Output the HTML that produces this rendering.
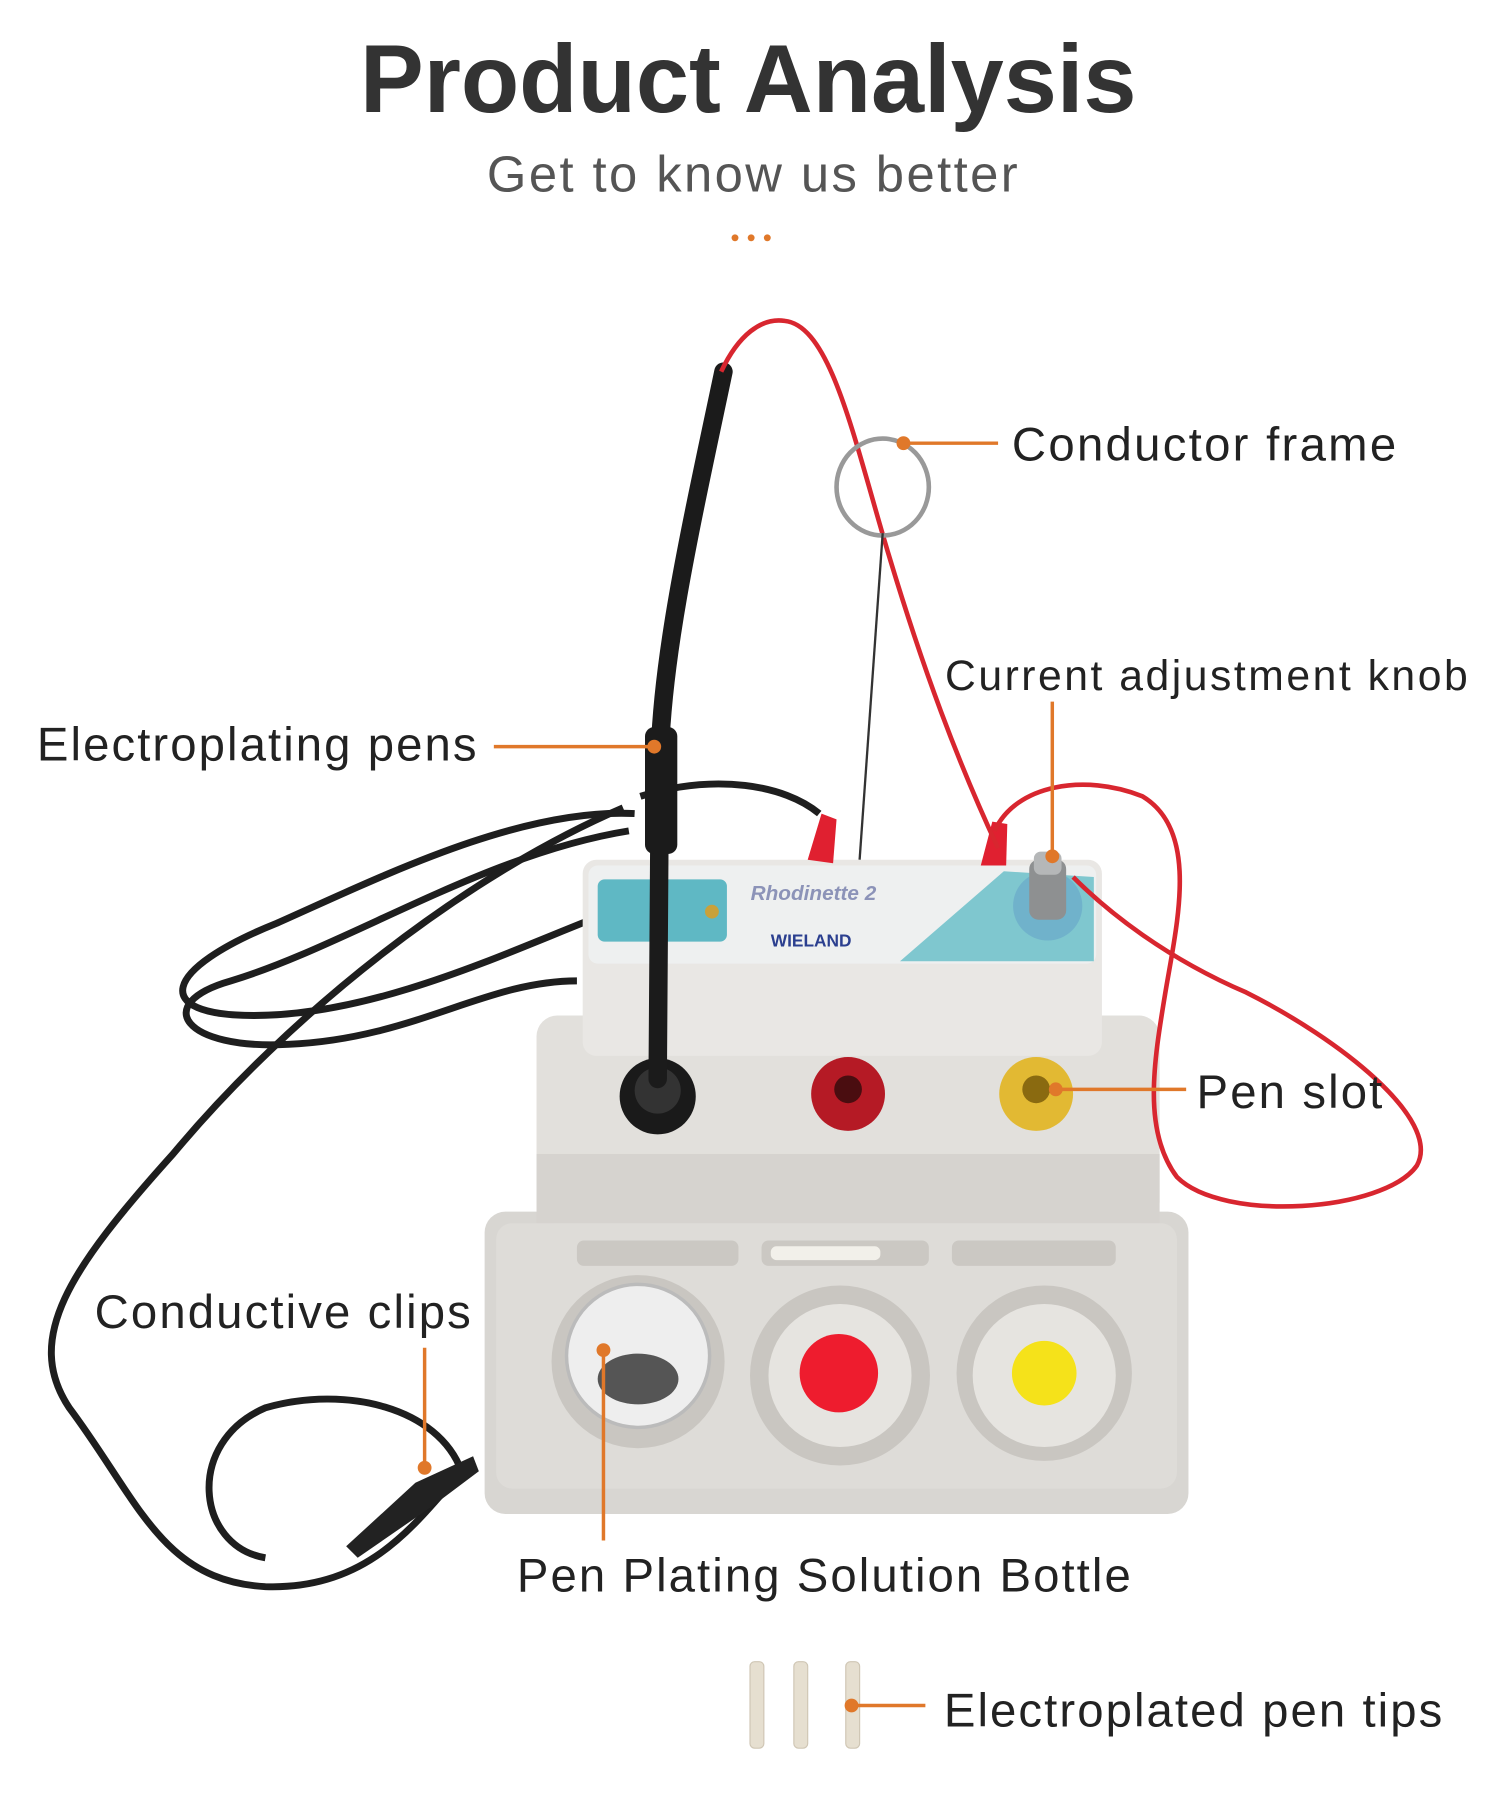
<!DOCTYPE html>
<html><head><meta charset="utf-8"><style>
html,body{margin:0;padding:0;background:#fff;width:1500px;height:1806px;overflow:hidden}
svg{display:block}
text{font-family:"Liberation Sans",sans-serif}
</style></head><body>
<svg width="1500" height="1806" viewBox="0 0 1300 1565" xmlns="http://www.w3.org/2000/svg">
<rect width="1300" height="1565" fill="#fff"/>
<text x="312" y="97" textLength="673" lengthAdjust="spacingAndGlyphs" font-size="84" font-weight="bold" fill="#333">Product Analysis</text>
<text x="422" y="166" textLength="460" lengthAdjust="spacing" font-size="44" fill="#555">Get to know us better</text>
<g fill="#e0782a"><circle cx="637" cy="206" r="3"/><circle cx="651" cy="206" r="3"/><circle cx="665" cy="206" r="3"/></g>

<g fill="none" stroke="#1e1e1e" stroke-width="6">
<path d="M550 705 C450 700 330 760 240 800 C140 840 130 880 220 880 C330 880 450 820 530 790"/>
<path d="M545 720 C420 740 300 820 200 850 C130 870 160 910 250 905 C360 900 420 850 500 850"/>
<path d="M540 700 C400 760 250 880 150 1000 C60 1100 20 1160 60 1220 C120 1300 140 1370 230 1375 C320 1378 360 1320 400 1275"/>
<path d="M400 1275 C380 1220 300 1200 230 1220 C160 1250 170 1340 230 1350"/>
<path d="M555 690 C620 670 680 680 710 705"/>
</g>
<path d="M300 1340 L360 1285 L410 1262 L415 1275 L375 1305 L310 1350 Z" fill="#222"/>

<rect x="420" y="1050" width="610" height="262" rx="18" fill="#d8d6d2"/>
<rect x="430" y="1060" width="590" height="230" rx="14" fill="#dedcd8"/>
<g fill="#cbc8c3"><rect x="500" y="1075" width="140" height="22" rx="6"/><rect x="660" y="1075" width="145" height="22" rx="6"/><rect x="825" y="1075" width="142" height="22" rx="6"/></g>
<rect x="668" y="1080" width="95" height="12" rx="5" fill="#f2f0ea"/>
<circle cx="553" cy="1180" r="75" fill="#c9c6c1"/>
<circle cx="553" cy="1175" r="62" fill="#eeeeee" stroke="#bbb" stroke-width="3"/>
<ellipse cx="553" cy="1195" rx="35" ry="22" fill="#555"/>
<circle cx="728" cy="1192" r="78" fill="#c9c6c1"/>
<circle cx="728" cy="1192" r="62" fill="#e6e4e0"/>
<circle cx="727" cy="1190" r="34" fill="#ee1c2e"/>
<circle cx="905" cy="1190" r="76" fill="#c9c6c1"/>
<circle cx="905" cy="1192" r="62" fill="#e6e4e0"/>
<circle cx="905" cy="1190" r="28" fill="#f5e21a"/>

<rect x="465" y="880" width="540" height="180" rx="18" fill="#e2e0dc"/>
<rect x="465" y="1000" width="540" height="60" fill="#d6d3cf"/>
<rect x="505" y="745" width="450" height="170" rx="12" fill="#e9e7e4"/>
<rect x="510" y="750" width="440" height="85" rx="8" fill="#eef0f0"/>
<rect x="518" y="762" width="112" height="54" rx="6" fill="#5fb8c4"/>
<polygon points="780,833 870,755 948,760 948,833" fill="#7fc7cf"/>
<text x="705" y="780" text-anchor="middle" font-size="18" font-weight="bold" fill="#8c93b8" font-style="italic">Rhodinette 2</text>
<text x="703" y="820" text-anchor="middle" font-size="15" font-weight="bold" fill="#2b3f8f">WIELAND</text>
<circle cx="617" cy="790" r="6" fill="#c9a13a"/>
<circle cx="908" cy="785" r="30" fill="#6aa9c9" opacity=".7"/>
<rect x="892" y="745" width="32" height="52" rx="8" fill="#8e9091"/>
<rect x="896" y="738" width="24" height="20" rx="6" fill="#b5b7b8"/>
<path d="M700 745 L712 705 L725 710 L722 748 Z" fill="#e02030"/>
<path d="M850 750 L860 712 L873 714 L872 750 Z" fill="#e02030"/>

<circle cx="570" cy="950" r="33" fill="#1a1a1a"/><circle cx="570" cy="945" r="20" fill="#333"/>
<circle cx="735" cy="948" r="32" fill="#b51a25"/><circle cx="735" cy="944" r="12" fill="#4a0d10"/>
<circle cx="898" cy="948" r="32" fill="#e2b933"/><circle cx="898" cy="944" r="12" fill="#8a6a10"/>

<path d="M627 322 C600 450 575 560 572 650 L570 935" fill="none" stroke="#1b1b1b" stroke-width="16" stroke-linecap="round"/>
<rect x="559" y="630" width="28" height="110" rx="8" fill="#1b1b1b"/>

<g fill="none" stroke="#d8262f" stroke-width="4">
<path d="M625 322 C640 290 660 275 680 278 C720 282 740 380 770 480 C800 580 830 660 865 735"/>
<path d="M862 720 C880 680 940 670 990 690 C1040 720 1020 800 1010 860 C1000 920 990 980 1020 1020 C1060 1060 1200 1050 1228 1010 C1250 970 1160 900 1080 860 C1010 830 960 790 930 760"/>
</g>
<ellipse cx="765" cy="422" rx="40" ry="42" fill="none" stroke="#999" stroke-width="4"/>
<path d="M765 462 L745 745" stroke="#333" stroke-width="2" fill="none"/>

<g fill="#e6dfd0" stroke="#cfc6b4" stroke-width="1"><rect x="650" y="1440" width="12" height="75" rx="4"/><rect x="688" y="1440" width="12" height="75" rx="4"/><rect x="733" y="1440" width="12" height="75" rx="4"/></g>

<g stroke="#e0782a" stroke-width="3" fill="none">
<path d="M783 384 H865"/><path d="M912 742 V608"/><path d="M428 647 H567"/>
<path d="M915 944 H1028"/><path d="M368 1168 V1272"/><path d="M523 1170 V1335"/><path d="M738 1478 H802"/>
</g>
<g fill="#e0782a">
<circle cx="783" cy="384" r="6"/><circle cx="912" cy="742" r="6"/><circle cx="567" cy="647" r="6"/>
<circle cx="915" cy="944" r="6"/><circle cx="368" cy="1272" r="6"/><circle cx="523" cy="1170" r="6"/><circle cx="738" cy="1478" r="6"/>
</g>
<g font-size="41" fill="#222" lengthAdjust="spacing">
<text x="877" y="399" textLength="333" lengthAdjust="spacing">Conductor frame</text>
<text x="819" y="598" font-size="37" textLength="453" lengthAdjust="spacing">Current adjustment knob</text>
<text x="32" y="659" textLength="381" lengthAdjust="spacing">Electroplating pens</text>
<text x="1037" y="960" textLength="161" lengthAdjust="spacing">Pen slot</text>
<text x="82" y="1151" textLength="326" lengthAdjust="spacing">Conductive clips</text>
<text x="448" y="1379" textLength="532" lengthAdjust="spacing">Pen Plating Solution Bottle</text>
<text x="818" y="1496" textLength="432" lengthAdjust="spacing">Electroplated pen tips</text>
</g>
</svg>
</body></html>
